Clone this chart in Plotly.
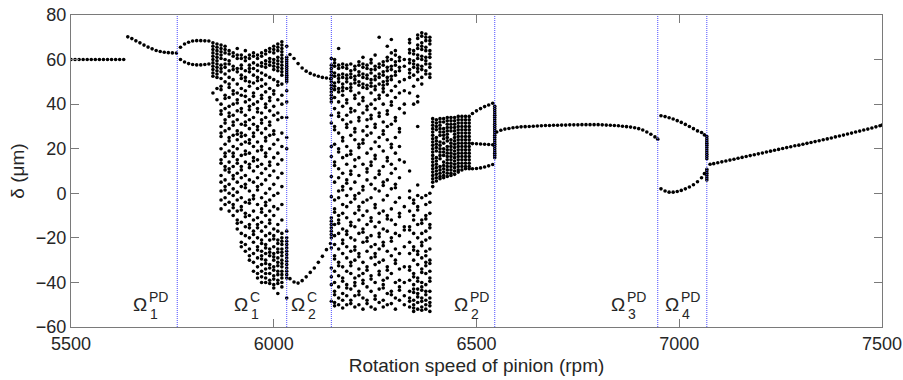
import plotly.graph_objects as go

# ---------------- periodic branches (rpm, delta in um) ----------------
p1_rpm = [5500, 5510, 5520, 5530, 5540, 5550, 5560, 5570, 5580, 5590, 5600, 5610, 5620, 5630]
p1_delta = [60, 60, 60, 60, 60, 60, 60, 60, 60, 60, 60, 60, 60, 60]

p1b_rpm = [5640, 5650, 5660, 5670, 5680, 5690, 5700, 5710, 5720, 5730, 5740, 5750, 5760]
p1b_delta = [70.2, 69.4, 68.4, 67.5, 66.5, 65.6, 64.8, 64.1, 63.6, 63.3, 63.1, 63.0, 62.9]

p2_rpm = [5770, 5780, 5790, 5800, 5810, 5820, 5830, 5840]
p2_upper = [65.5, 67.0, 67.8, 68.3, 68.5, 68.5, 68.4, 68.3]
p2_lower = [60.0, 58.9, 58.2, 57.8, 57.6, 57.6, 57.8, 58.0]

p2b_rpm = [6040, 6050, 6060, 6070, 6080, 6090, 6100, 6110, 6120, 6130, 6140]
p2b_upper = [62.3, 60.5, 58.2, 56.2, 54.8, 53.8, 53.1, 52.5, 52.0, 51.7, 51.4]
p2b_lower = [-38.3, -39.8, -40.3, -39.2, -37.5, -35.5, -33.5, -31.0, -28.3, -25.3, -22.5]

p3_rpm = [6490, 6500, 6510, 6520, 6530, 6540]
p3_top = [35.8, 37.0, 38.0, 38.9, 39.6, 40.4]
p3_mid = [22.3, 22.2, 22.1, 22.0, 21.9, 21.8]
p3_bot = [11.0, 11.1, 11.4, 11.8, 12.3, 12.9]

p1c_rpm = [6550, 6560, 6570, 6580, 6590, 6600, 6610, 6620, 6630, 6640, 6650, 6660, 6670,
           6680, 6690, 6700, 6710, 6720, 6730, 6740, 6750, 6760, 6770, 6780, 6790, 6800,
           6810, 6820, 6830, 6840, 6850, 6860, 6870, 6880, 6890, 6900, 6910, 6920, 6930,
           6940, 6947]
p1c_delta = [27.5, 28.3, 28.8, 29.1, 29.4, 29.6, 29.8, 29.9, 30.0, 30.1, 30.2, 30.3, 30.4,
             30.4, 30.5, 30.5, 30.6, 30.6, 30.7, 30.7, 30.7, 30.8, 30.8, 30.8, 30.8, 30.8,
             30.7, 30.6, 30.5, 30.4, 30.3, 30.1, 29.9, 29.7, 29.4, 29.0, 28.4, 27.5, 26.5,
             25.3, 24.3]

p2c_rpm = [6955, 6965, 6975, 6985, 6995, 7005, 7015, 7025, 7035, 7045, 7055, 7062]
p2c_upper = [34.8, 34.4, 33.9, 33.3, 32.6, 31.8, 30.9, 30.0, 29.0, 28.0, 27.3, 26.2]
p2c_lower = [2.0, 1.0, 0.5, 0.5, 0.8, 1.3, 2.0, 2.8, 3.8, 5.2, 7.0, 8.8]

p1d_rpm = [7076, 7085, 7095, 7105, 7115, 7125, 7135, 7145, 7155, 7165, 7175, 7185, 7195,
           7205, 7215, 7225, 7235, 7245, 7255, 7265, 7275, 7285, 7295, 7305, 7315, 7325,
           7335, 7345, 7355, 7365, 7375, 7385, 7395, 7405, 7415, 7425, 7435, 7445, 7455,
           7465, 7475, 7485, 7495, 7500]
p1d_delta = [13.0, 13.3, 13.7, 14.1, 14.5, 14.9, 15.3, 15.7, 16.1, 16.5, 16.9, 17.3, 17.7,
             18.1, 18.5, 18.9, 19.3, 19.7, 20.1, 20.5, 20.9, 21.3, 21.6, 22.0, 22.4, 22.8,
             23.2, 23.6, 24.0, 24.4, 24.8, 25.3, 25.7, 26.1, 26.6, 27.0, 27.5, 27.9, 28.4,
             28.8, 29.3, 29.8, 30.3, 30.6]

# ---------------- sampled columns (chaotic / quasi-periodic / transition) ----------------
col_rpm = [5850, 5860, 5870, 5880, 5890, 5900, 5910, 5920, 5930, 5940, 5950, 5960, 5970,
           5980, 5990, 6000, 6010, 6020, 6032,
           6142, 6150, 6160, 6170, 6180, 6190, 6200, 6210, 6220, 6230, 6240, 6250, 6260,
           6270, 6280, 6290, 6300, 6310, 6322,
           6335, 6345, 6355, 6365, 6375, 6385,
           6392, 6401, 6410, 6419, 6428, 6437, 6446, 6455, 6464, 6473, 6482,
           6545, 7068]
col_delta = [
    [67.5, 66, 64.5, 63, 61.5, 60, 58.5, 57, 55.5, 54, 52.5, 45],
    [67, 65.5, 64, 62.5, 61, 59.5, 58, 56.5, 55, 53.5, 52, 47, 42],
    [66.5, 65, 63.5, 62, 60.5, 57.5, 56, 54.5, 51.5, 48, 46.5, 40, 37, 35.5, 30, 27, 25.5, 20, 15, 13.5, 8, 5, 1, -3, -7],
    [66, 64.5, 63, 60, 58, 56.5, 53.5, 50, 44, 42.5, 38, 33, 31.5, 28, 22, 18, 16.5, 12, 10.5, 6, 3, 1.5, -2, -5],
    [64, 62.5, 59.5, 58, 55, 52, 49, 47.5, 43, 39, 36, 34.5, 29, 25, 23.5, 19, 14, 11, 9.5, 4, 0, -4, -8],
    [63, 61.5, 57, 55.5, 51, 46, 44.5, 40, 35, 32, 30.5, 26, 21, 18, 16.5, 12, 8, 6.5, 2, -1, -5, -6.5, -10],
    [65, 62, 60.5, 56, 54.5, 49, 45, 42, 40.5, 37, 33, 28, 26.5, 24, 20, 15, 13.5, 9, 5, 0.5, -3, -8, -12, -13.5, -16],
    [62, 60.5, 57.5, 56, 53, 51.5, 47, 44, 38, 36.5, 31, 27, 25.5, 22, 17, 12, 10.5, 7, 3, -2, -6, -7.5, -13, -18, -22, -24],
    [64, 61, 59.5, 55, 52, 50.5, 46, 43.5, 41, 35, 32, 30.5, 26, 23, 19, 17.5, 14, 8, 4, 2.5, -4, -9, -10.5, -15, -19, -23, -26],
    [62, 60.5, 57.5, 56, 54.5, 50, 48, 42, 39, 37.5, 33, 29, 24, 22.5, 18, 13, 11.5, 6, 1, -3, -4.5, -10, -14, -15.5, -20, -25, -28, -30],
    [63, 61.5, 58.5, 56, 53, 49.5, 45, 43.5, 40, 34, 31, 27, 25.5, 21, 16, 14.5, 10, 5, -1, -2.5, -8, -12, -17, -18.5, -22, -27, -31, -35],
    [62, 60.5, 57.5, 55, 52, 50.5, 47, 41, 38, 36.5, 30, 28.5, 23, 19, 15, 12, 7, 3, 1.5, -5, -11, -14, -15.5, -20, -24, -25.5, -29, -33, -36, -38],
    [63, 61.5, 58.5, 57, 54, 51, 48, 44, 42.5, 36, 33, 31.5, 27, 21, 19.5, 13, 9, 4, -2, -7, -8.5, -13, -17, -21, -22.5, -26, -28, -29.5, -32, -35, -37.5, -40],
    [64, 62.5, 59.5, 58, 56.5, 53, 49, 45.5, 40, 38.5, 34, 29, 25, 23.5, 18, 16.5, 11, 6, 0, -4, -5.5, -10, -15, -19, -23, -24.5, -27, -30, -31.5, -34, -36, -38, -40],
    [65, 63.5, 60.5, 59, 57.5, 52, 47, 43, 41.5, 37, 32, 30.5, 26, 20, 14, 12.5, 8, 2, -3, -8, -12, -13.5, -18, -21, -25, -26.5, -28, -32, -33.5, -36, -39, -40.5],
    [66, 64.5, 63, 60, 58.5, 57, 55.5, 51, 46, 44.5, 39, 35, 28, 26.5, 22, 16, 10, 4, -1, -6, -10, -16, -19, -20.5, -24, -27, -28.5, -30, -33, -34.5, -37, -38.5, -41, -42.5],
    [67, 65.5, 64, 61, 59.5, 58, 56.5, 55, 50, 48.5, 42, 36, 33, 24, 18, 13, 7, 0, -7, -14, -17, -21, -22.5, -25, -26.5, -29, -31, -32.5, -35, -36.5, -39, -40.5, -45],
    [68, 66.5, 65, 63.5, 62, 60.5, 59, 57.5, 56, 54.5, 53, 49, 44, 40, 34, 27, 21, 15, 9, 3, -5, -12, -18, -20, -21.5, -23, -25, -26.5, -28, -30, -31.5, -33, -35, -36.5, -38, -40, -42],
    [66, 61, 60, 59, 58, 57, 56, 55, 54, 53, 52, 51, 50, 46, 41, 34, 25, 20, -17, -20, -21.5, -23, -24.5, -26, -27.5, -29, -30.5, -32, -33.5, -35, -36.5, -38, -47],
    # chaotic region 2
    [60.5, 57.5, 56, 54.5, 53, 51.5, 50, 48.5, 47, 45.5, 44, 42.5, 41, 35, 31.5, 21, 16.5, 7.5, -1.5, -11, -12.5, -14, -15.5, -17, -18.5, -20, -24.5, -33.5, -37.5, -41, -48.5],
    [60, 58.5, 57, 54, 52.5, 49.5, 48, 46.5, 43, 38, 30, 28.5, 22, 14, 12.5, 5, -3, -7, -8.5, -14, -19, -23, -28, -29.5, -35, -40, -44, -45.5, -49, -50.5],
    [65, 57.5, 56, 53, 51.5, 50, 47, 45.5, 41, 36, 34.5, 27, 20, 18.5, 11, 7, 1, -2, -10, -12, -13.5, -18, -25, -31, -32.5, -37, -42, -47, -50],
    [58, 56.5, 53.5, 52, 49, 47.5, 46, 44, 39, 33, 25, 23.5, 16, 9, 3, 1.5, -5, -9, -16, -21, -22.5, -27, -33, -38, -39.5, -45, -48, -51.5],
    [57.5, 56, 53, 51.5, 50, 47, 42, 40.5, 35, 31, 29.5, 21, 17, 13, 6, 4.5, -1, -6, -11, -17, -18.5, -24, -29, -35, -41, -42.5, -46, -50],
    [58, 55, 53.5, 52, 49, 47.5, 46, 38, 36.5, 32, 26, 19, 17.5, 10, 8.5, 2, -4, -13, -14.5, -20, -26, -31, -32.5, -36, -43, -48, -49.5],
    [57, 55.5, 52.5, 51, 49.5, 44, 42.5, 37, 29, 27.5, 24, 15, 12, 5, -1, -2.5, -9, -15, -21, -24, -25.5, -30, -38, -40, -41.5, -46, -51],
    [59, 57.5, 54.5, 53, 50, 48.5, 45, 40, 34, 32.5, 22, 20.5, 16, 8, 0, -6, -7.5, -12, -18, -27, -28.5, -34, -37, -44, -45.5, -50],
    [61, 58, 56.5, 53.5, 52, 49, 47.5, 43, 41.5, 36, 28, 24, 22.5, 13, 3, 1.5, -4, -10, -16, -17.5, -22, -31, -36, -39, -40.5, -47, -52],
    [57.5, 56, 53, 51.5, 48.5, 47, 39, 37.5, 33, 30, 26, 18, 11, 9.5, 6, -3, -8, -14, -20, -21.5, -26, -33, -34.5, -42, -48, -49.5],
    [60, 58.5, 55.5, 54, 51, 49.5, 48, 45, 40, 35, 33.5, 27, 20, 14, 12.5, 4, -2, -11, -12.5, -19, -24, -29, -37, -38.5, -44, -51],
    [62, 57, 55.5, 52.5, 51, 48, 46.5, 42, 38, 31, 29.5, 23, 17, 15.5, 7, 2, -5, -6.5, -15, -23, -27, -28.5, -32, -40, -46, -47.5, -52],
    [70, 58, 56.5, 53.5, 52, 49, 44, 42.5, 36, 34.5, 25, 21, 10, 8.5, 1, -9, -13, -18, -19.5, -25, -31, -35, -36.5, -43, -49],
    [59, 57.5, 54.5, 53, 50, 48.5, 47, 45.5, 40, 32, 28, 26.5, 19, 12, 5, 3.5, -3, -8, -16, -22, -23.5, -30, -39, -41, -42.5, -48, -51],
    [66, 61, 59.5, 56.5, 55, 52, 50.5, 49, 44, 37, 35.5, 30, 24, 16, 14.5, 6, -1, -10, -11.5, -17, -26, -33, -34.5, -38, -45, -50],
    [69, 63, 60, 57, 55.5, 52.5, 51, 46, 41, 39.5, 31, 22, 20.5, 13, 9, 2, -7, -12, -20, -21.5, -28, -36, -44, -45.5, -49.5],
    [64, 62, 59, 57.5, 54.5, 53, 48, 43, 34, 32.5, 25, 18, 11, 4, 2.5, -4, -14, -18, -25, -30, -31.5, -40, -47, -52],
    [61, 59.5, 56.5, 55, 50, 45, 38, 29, 27.5, 21, 15, 7, -2, -9, -10.5, -19, -27, -34, -39, -42, -43.5, -48],
    [60, 57, 51, 46, 40, 36, 14, -6, -15, -16.5, -24, -33, -40, -46, -50],
    # right sub-cluster of region 2
    [69, 67.5, 64.5, 63, 60, 58.5, 55.5, 54, 52, 45, 10, 1, -2, -8, -15, -16.5, -22, -27, -33, -34.5, -39, -44, -47, -48.5, -51],
    [64, 62.5, 59.5, 58, 56.5, 53, 48, 40, -3, -4.5, -10, -12, -18, -24, -25.5, -30, -36, -37.5, -41, -43, -44.5, -48, -50, -51.5, -53],
    [71, 69.5, 66.5, 65, 62, 60.5, 57.5, 56, 54.5, 51, 43.5, 41, 30, 3.7, -1, -6, -7.5, -14, -20, -26, -27.5, -32, -38, -39.5, -43, -45, -46.5, -49, -52],
    [72, 70.5, 67.5, 66, 64.5, 61.5, 60, 57, 55.5, 52, 49, -2, -12, -13.5, -18, -22, -23.5, -29, -34, -35.5, -40, -42, -43.5, -47, -48.5, -51, -52.5],
    [71.5, 70, 68.5, 65.5, 64, 61, 59.5, 58, 55, 53.5, -1, -5, -10, -11.5, -17, -21, -26, -28, -31, -32.5, -36, -41, -44, -45.5, -48, -50, -52],
    [70, 68.5, 67, 64, 62.5, 61, 58, 56.5, 53.5, 52, 0, -4, -9, -14, -15.5, -20, -25, -30, -31.5, -35, -38, -39.5, -44, -47, -49, -50.5, -53],
    # quasi-periodic band
    [33.5, 32, 30.5, 29, 27.5, 26, 24.5, 23, 21.5, 20, 18.5, 17, 15.5, 14, 12.5, 11, 9.5, 8, 6.5, 5, 3],
    [33, 31.5, 30, 28.5, 25, 23.5, 22, 20.5, 19, 16, 14.5, 13, 11.5, 10, 8.5, 7, 5.5],
    [33.5, 32, 30.5, 29, 27.5, 26, 23, 21.5, 20, 18.5, 17, 15.5, 12, 10.5, 9, 7.5, 6.5],
    [33.5, 32, 29, 27.5, 26, 24.5, 22.5, 20, 18.5, 17, 14, 12.5, 11, 9.5, 8, 7],
    [34, 32.5, 31, 29.5, 28, 26.5, 25, 23.5, 21, 19.5, 18, 16.5, 15, 13.5, 12, 10.5, 9, 7.5],
    [34, 32.5, 31, 29.5, 28, 24, 22.5, 21, 19.5, 18, 16.5, 15, 13.5, 12, 10.5, 9, 8],
    [34, 32.5, 31, 29.5, 28, 26.5, 25, 23.5, 22, 20.5, 19, 17.5, 16, 14.5, 13, 11.5, 10, 8.5],
    [34.5, 33, 31.5, 30, 28.5, 27, 25.5, 24, 22.5, 21, 19.5, 18, 16.5, 15, 13.5, 12, 10.5, 9.5],
    [34.5, 33, 31.5, 30, 28.5, 27, 25.5, 24, 22.5, 21, 19.5, 18, 16.5, 15, 13.5, 12, 10.5],
    [34.5, 33, 31.5, 30, 28.5, 27, 25.5, 24, 22.5, 21, 19.5, 18, 16.5, 15, 13.5, 12, 11],
    [34.5, 33, 31.5, 30, 28.5, 27, 25.5, 24, 22.5, 21, 19.5, 18, 16.5, 15, 13.5, 12, 11],
    # transition columns at bifurcation points
    [16, 17, 18, 19, 20, 21, 22, 23, 24, 25, 26, 27, 28, 29, 30, 31, 32, 33, 34, 35, 36, 37, 38, 39],
    [6, 7, 8, 9, 10, 10.8, 15.5, 16.5, 17.5, 18.5, 19.5, 20.5, 21.5, 22.5, 23.5, 24.5, 25.5],
]

# bifurcation speeds and labels
bif_rpm = [5762, 6032, 6142, 6545, 6947, 7068]
label_rpm = [5669, 5918, 6059, 6462, 6848, 6983]
label_sup = ["PD", "C", "C", "PD", "PD", "PD"]
label_sub = ["1", "1", "2", "2", "3", "4"]
label_delta = -50

x_ticks = [5500, 6000, 6500, 7000, 7500]
y_ticks = [-60, -40, -20, 0, 20, 40, 60, 80]

# ---------------- assemble ----------------
xs, ys = [], []
def add(r, d):
    xs.extend(r)
    ys.extend(d)

add(p1_rpm, p1_delta)
add(p1b_rpm, p1b_delta)
add(p2_rpm, p2_upper); add(p2_rpm, p2_lower)
add(p2b_rpm, p2b_upper); add(p2b_rpm, p2b_lower)
add(p3_rpm, p3_top); add(p3_rpm, p3_mid); add(p3_rpm, p3_bot)
add(p1c_rpm, p1c_delta)
add(p2c_rpm, p2c_upper); add(p2c_rpm, p2c_lower)
add(p1d_rpm, p1d_delta)
for r, col in zip(col_rpm, col_delta):
    add([r] * len(col), col)

FONT = "Liberation Sans, Arial, Helvetica, sans-serif"
TXT = "#262626"
AX = "#7a7a7a"

fig = go.Figure()
fig.add_trace(go.Scatter(x=xs, y=ys, mode="markers",
                         marker=dict(color="black", size=3.6, line=dict(width=0)),
                         hoverinfo="skip", showlegend=False))

for r in bif_rpm:
    fig.add_shape(type="line", xref="x", yref="y", x0=r, x1=r, y0=-60, y1=80,
                  line=dict(color="#4b4bff", width=1, dash="1px,1px"), layer="above")

for r, sp, sb in zip(label_rpm, label_sup, label_sub):
    fig.add_annotation(x=r, y=label_delta, text="Ω", showarrow=False,
                       xanchor="center", yanchor="middle",
                       font=dict(family=FONT, size=19, color=TXT))
    fig.add_annotation(x=r, y=label_delta, text=sp, showarrow=False,
                       xanchor="left", yanchor="middle", xshift=7, yshift=8,
                       font=dict(family=FONT, size=14, color=TXT))
    fig.add_annotation(x=r, y=label_delta, text=sb, showarrow=False,
                       xanchor="left", yanchor="middle", xshift=8, yshift=-9,
                       font=dict(family=FONT, size=14, color=TXT))

fig.update_layout(
    width=903, height=380,
    margin=dict(l=71, r=21, t=15, b=53, autoexpand=False),
    paper_bgcolor="white", plot_bgcolor="white",
    font=dict(family=FONT, size=18, color=TXT),
    xaxis=dict(range=[5500, 7500], tickvals=x_ticks, ticks="inside", ticklen=8,
               tickcolor=AX, showline=True, linecolor=AX, linewidth=1, mirror="ticks",
               showgrid=False, zeroline=False, automargin=False,
               title=dict(text="Rotation speed of pinion (rpm)", standoff=6,
                          font=dict(size=19, color=TXT)),
               tickfont=dict(size=18, color=TXT)),
    yaxis=dict(range=[-60, 80], tickvals=y_ticks, ticks="inside", ticklen=8,
               tickcolor=AX, showline=True, linecolor=AX, linewidth=1, mirror="ticks",
               showgrid=False, zeroline=False, automargin=False,
               title=dict(text="δ (μm)", standoff=6, font=dict(size=19, color=TXT)),
               tickfont=dict(size=18, color=TXT)),
)

fig.write_html("out.html")
